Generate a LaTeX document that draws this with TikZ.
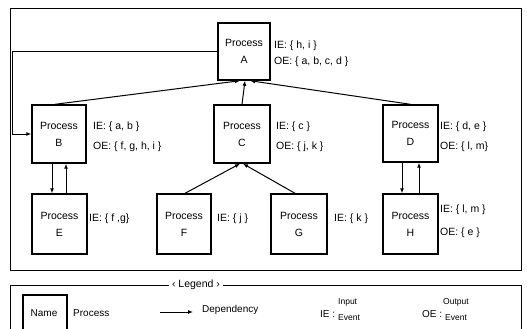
\documentclass[tikz,border=0pt]{standalone}
\usepackage{fontspec}
\setmainfont{Liberation Sans}
\usetikzlibrary{arrows.meta}
\begin{document}
\begin{tikzpicture}[x=1pt,y=-1pt,
  proc/.style={draw,line width=1.4pt,align=center,inner sep=0pt,font=\fontsize{10.5}{17}\selectfont},
  lab/.style={anchor=west,inner sep=0pt,font=\fontsize{10.5}{12}\selectfont},
  leg/.style={anchor=west,inner sep=0pt,font=\fontsize{10}{12}\selectfont},
  tiny/.style={anchor=west,inner sep=0pt,font=\fontsize{8.5}{9}\selectfont},
  dep/.style={line width=1pt,-{Latex[length=5pt,width=4pt]}},
  frame/.style={line width=0.9pt}]
\useasboundingbox (0,0) rectangle (527,329);
\clip (0,0) rectangle (527,329);
\fill[white] (0,0) rectangle (527,329);
% main frame
\draw[frame] (10,8) rectangle (521,270);
% processes
\node[proc,minimum width=52pt,minimum height=57pt] (A) at (244,51.5) {Process\\A};
\node[proc,minimum width=54pt,minimum height=58pt] (B) at (59,134) {Process\\B};
\node[proc,minimum width=56pt,minimum height=58pt] (C) at (242,134) {Process\\C};
\node[proc,minimum width=55pt,minimum height=57pt] (D) at (410.5,133.5) {Process\\D};
\node[proc,minimum width=55pt,minimum height=60pt] (E) at (59.5,224) {Process\\E};
\node[proc,minimum width=54pt,minimum height=60pt] (F) at (184,224) {Process\\F};
\node[proc,minimum width=56pt,minimum height=60pt] (G) at (299,224) {Process\\G};
\node[proc,minimum width=55pt,minimum height=60pt] (H) at (410.5,224) {Process\\H};
% event labels
\node[lab] (Aie) at (274,46) {IE: \{ h, i \}};
\node[lab] (Aoe) at (274,62) {OE: \{ a, b, c, d \}};
\node[lab] (Bie) at (93,127) {IE: \{ a, b \}};
\node[lab] (Boe) at (93,147) {OE: \{ f, g, h, i \}};
\node[lab] (Cie) at (276,127) {IE: \{ c \}};
\node[lab] (Coe) at (276,147) {OE: \{ j, k \}};
\node[lab] (Die) at (440,127) {IE: \{ d, e \}};
\node[lab] (Doe) at (440,147) {OE: \{ l, m\}};
\node[lab] (Eie) at (89,219) {IE: \{ f ,g\}};
\node[lab] (Fie) at (217,219) {IE: \{ j \}};
\node[lab] (Gie) at (334,219) {IE: \{ k \}};
\node[lab] (Hie) at (440,210) {IE: \{ l, m \}};
\node[lab] (Hoe) at (440,233) {OE: \{ e \}};
% connectors
\coordinate (lc) at (12,51.5);
\draw[dep] (A.west) -- (lc) |- (B.west);
\draw[dep] ([xshift=-4pt]B.north) -- ([xshift=-4pt]A.south);
\draw[dep] (C.north) -- ([xshift=1pt]A.south);
\draw[dep] (D.north) -- ([xshift=6pt]A.south);
\draw[dep] ([xshift=-7pt]B.south) -- ([xshift=-7pt]B.south |- E.north);
\draw[dep] ([xshift=7pt]B.south |- E.north) -- ([xshift=7pt]B.south);
\draw[dep] ([xshift=-8.5pt]D.south) -- ([xshift=-8.5pt]D.south |- H.north);
\draw[dep] ([xshift=8.5pt]D.south |- H.north) -- ([xshift=8.5pt]D.south);
\draw[dep] ([xshift=1pt]F.north) -- ([xshift=-2pt]C.south);
\draw[dep] ([xshift=-4pt]G.north) -- ([xshift=1pt]C.south);
% legend
\draw[frame] (10,285) rectangle (521,340);
\node[fill=white,inner xsep=3pt,inner ysep=1pt,font=\fontsize{10.5}{12}\selectfont] (legt) at (196,285) {‹ Legend ›};
\node[draw,line width=1.4pt,minimum width=44pt,minimum height=40pt,inner sep=0pt] (name) at (45,315) {};
\node[inner sep=0pt,font=\fontsize{10}{12}\selectfont] (namet) at (44,313) {Name};
\node[leg] (lp) at (73,313) {Process};
\coordinate (da) at (160,312);
\coordinate (db) at (193,312);
\draw[dep] (da) -- (db);
\node[leg] (ld) at (202,310) {Dependency};
\node[leg] (lie) at (320,314) {IE :};
\node[tiny] (lin) at (338,302) {Input};
\node[tiny] (lev) at (338,318) {Event};
\node[leg] (loe) at (422,314) {OE :};
\node[tiny] (lout) at (443,302) {Output};
\node[tiny] (lev2) at (445,318) {Event};
\end{tikzpicture}
\end{document}
